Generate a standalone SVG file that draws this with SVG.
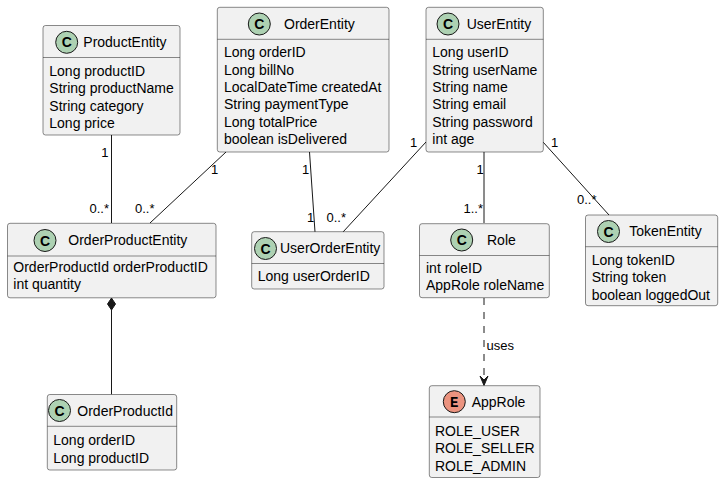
<svg xmlns="http://www.w3.org/2000/svg" width="724" height="483" viewBox="0 0 724 483">
<style>
.box{fill:#F1F1F1;stroke:#181818;stroke-width:0.5}
.div{stroke:#181818;stroke-width:0.5}
.ci{fill:#ADD1B2;stroke:#181818;stroke-width:1}
.ce{fill:#EB937F;stroke:#181818;stroke-width:1}
.t{font-family:"Liberation Sans",Arial,sans-serif;font-size:14px;fill:#000}
.g{font-family:"Liberation Sans",Arial,sans-serif;font-size:14px;font-weight:bold;fill:#000;text-anchor:middle}
.ge{font-family:"Liberation Mono","Courier New",monospace;font-size:14px;font-weight:bold;fill:#000;text-anchor:middle}
.l{font-family:"Liberation Sans",Arial,sans-serif;font-size:13px;fill:#000}
.e{text-anchor:end}
.ln{stroke:#181818;stroke-width:1;fill:none}
.dash{stroke-dasharray:7,7}
</style>
<rect width="724" height="483" fill="#FFFFFF"/>
<g id="connectors">
<line class="ln" x1="111.5" y1="135" x2="111.5" y2="223"/>
<line class="ln" x1="226" y1="152" x2="150" y2="223"/>
<line class="ln" x1="309.5" y1="152" x2="315" y2="232"/>
<line class="ln" x1="426" y1="142" x2="343" y2="232"/>
<line class="ln" x1="484" y1="152" x2="484" y2="223"/>
<line class="ln" x1="543" y1="142" x2="609" y2="215"/>
<polygon points="111.5,298 115.5,304 111.5,310 107.5,304" fill="#181818" stroke="#181818" stroke-width="1"/>
<line class="ln" x1="111.5" y1="310" x2="111.5" y2="394.5"/>
<line class="ln dash" x1="484" y1="298" x2="484" y2="384"/>
<polygon points="484,385.5 480,376 484,380 488,376" fill="#181818" stroke="#181818" stroke-width="1"/>
<text class="l e" x="108.5" y="157">1</text>
<text class="l e" x="109" y="213">0..*</text>
<text class="l" x="211" y="174">1</text>
<text class="l" x="135" y="213">0..*</text>
<text class="l" x="302" y="174">1</text>
<text class="l" x="307" y="222">1</text>
<text class="l" x="410" y="147">1</text>
<text class="l" x="326.5" y="222">0..*</text>
<text class="l" x="476.5" y="174">1</text>
<text class="l e" x="483" y="213">1..*</text>
<text class="l" x="551" y="147">1</text>
<text class="l" x="577" y="204">0..*</text>
<text class="l" x="486.5" y="350">uses</text>
</g>
<g id="ProductEntity">
<rect class="box" x="43" y="25.5" width="137" height="109.5" rx="2.5"/>
<line class="div" x1="43" y1="57.5" x2="180" y2="57.5"/>
<circle class="ci" cx="66.7" cy="42.3" r="11"/>
<text class="g" x="66.7" y="47.3">C</text>
<text class="t" x="83.3" y="46.8">ProductEntity</text>
<text class="t" x="49.3" y="76">Long productID</text>
<text class="t" x="49.3" y="93.3">String productName</text>
<text class="t" x="49.3" y="110.7">String category</text>
<text class="t" x="49.3" y="128">Long price</text>
</g>
<g id="OrderEntity">
<rect class="box" x="217.3" y="7.3" width="171.7" height="144.7" rx="2.5"/>
<line class="div" x1="217.3" y1="39.3" x2="389" y2="39.3"/>
<circle class="ci" cx="259.3" cy="24" r="11"/>
<text class="g" x="259.3" y="29">C</text>
<text class="t" x="284" y="28.8">OrderEntity</text>
<text class="t" x="224" y="57.3">Long orderID</text>
<text class="t" x="224" y="74.6">Long billNo</text>
<text class="t" x="224" y="91.9">LocalDateTime createdAt</text>
<text class="t" x="224" y="109.2">String paymentType</text>
<text class="t" x="224" y="126.5">Long totalPrice</text>
<text class="t" x="224" y="143.8">boolean isDelivered</text>
</g>
<g id="UserEntity">
<rect class="box" x="426" y="7.3" width="117.3" height="144.7" rx="2.5"/>
<line class="div" x1="426" y1="39.3" x2="543.3" y2="39.3"/>
<circle class="ci" cx="448" cy="24" r="11"/>
<text class="g" x="448" y="29">C</text>
<text class="t" x="466.7" y="28.8">UserEntity</text>
<text class="t" x="432.3" y="57.3">Long userID</text>
<text class="t" x="432.3" y="74.6">String userName</text>
<text class="t" x="432.3" y="91.9">String name</text>
<text class="t" x="432.3" y="109.2">String email</text>
<text class="t" x="432.3" y="126.5">String password</text>
<text class="t" x="432.3" y="143.8">int age</text>
</g>
<g id="OrderProductEntity">
<rect class="box" x="7.5" y="223.3" width="208.5" height="74.5" rx="2.5"/>
<line class="div" x1="7.5" y1="256" x2="216" y2="256"/>
<circle class="ci" cx="45" cy="240.5" r="11"/>
<text class="g" x="45" y="245.5">C</text>
<text class="t" x="68.3" y="245.2">OrderProductEntity</text>
<text class="t" x="13.3" y="272">OrderProductId orderProductID</text>
<text class="t" x="13.3" y="289.3">int quantity</text>
</g>
<g id="UserOrderEntity">
<rect class="box" x="251.7" y="231.7" width="132.3" height="57.3" rx="2.5"/>
<line class="div" x1="251.7" y1="263.5" x2="384" y2="263.5"/>
<circle class="ci" cx="265.5" cy="248.5" r="11"/>
<text class="g" x="265.5" y="253.5">C</text>
<text class="t" x="280" y="253.2">UserOrderEntity</text>
<text class="t" x="257.7" y="280.5">Long userOrderID</text>
</g>
<g id="Role">
<rect class="box" x="419.5" y="223.7" width="129.8" height="74" rx="2.5"/>
<line class="div" x1="419.5" y1="255.5" x2="549.3" y2="255.5"/>
<circle class="ci" cx="461.7" cy="240" r="11"/>
<text class="g" x="461.7" y="245">C</text>
<text class="t" x="487" y="245.2">Role</text>
<text class="t" x="426" y="272.5">int roleID</text>
<text class="t" x="426" y="289.8">AppRole roleName</text>
</g>
<g id="TokenEntity">
<rect class="box" x="585.5" y="215" width="132.2" height="90.7" rx="2.5"/>
<line class="div" x1="585.5" y1="246.7" x2="717.7" y2="246.7"/>
<circle class="ci" cx="608.5" cy="231.5" r="11"/>
<text class="g" x="608.5" y="236.5">C</text>
<text class="t" x="629.3" y="236">TokenEntity</text>
<text class="t" x="591.7" y="265">Long tokenID</text>
<text class="t" x="591.7" y="282.3">String token</text>
<text class="t" x="591.7" y="299.6">boolean loggedOut</text>
</g>
<g id="OrderProductId">
<rect class="box" x="47.3" y="394.5" width="129.4" height="75.5" rx="2.5"/>
<line class="div" x1="47.3" y1="426.3" x2="176.7" y2="426.3"/>
<circle class="ci" cx="59.5" cy="410.5" r="11"/>
<text class="g" x="59.5" y="415.5">C</text>
<text class="t" x="77.3" y="416.2">OrderProductId</text>
<text class="t" x="53.3" y="445.3">Long orderID</text>
<text class="t" x="53.3" y="462.6">Long productID</text>
</g>
<g id="AppRole">
<rect class="box" x="429.3" y="385.7" width="110.7" height="91.8" rx="2.5"/>
<line class="div" x1="429.3" y1="417" x2="540" y2="417"/>
<circle class="ce" cx="454.3" cy="401.7" r="11"/>
<text class="ge" x="454.3" y="406.5">E</text>
<text class="t" x="471.7" y="406.5">AppRole</text>
<text class="t" x="435" y="436">ROLE_USER</text>
<text class="t" x="435" y="453.3">ROLE_SELLER</text>
<text class="t" x="435" y="470.6">ROLE_ADMIN</text>
</g>
</svg>
